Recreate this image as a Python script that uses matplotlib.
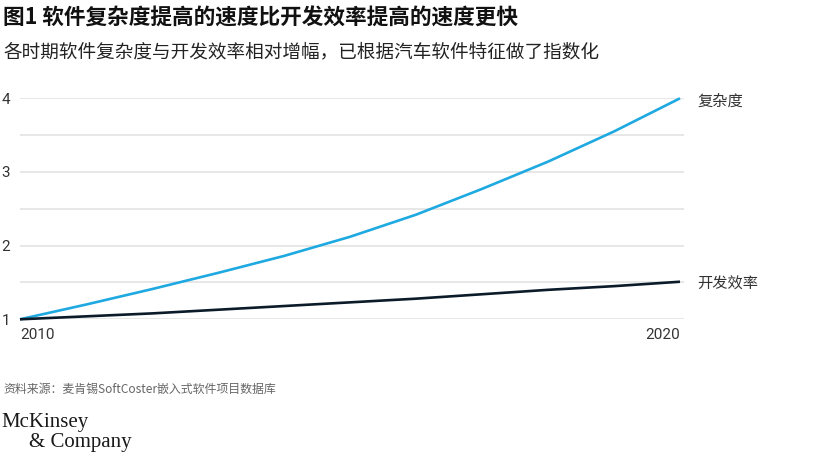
import matplotlib.pyplot as plt

# Data
years = [2010, 2011, 2012, 2013, 2014, 2015, 2016, 2017, 2018, 2019, 2020]
complexity = [1.0, 1.20, 1.41, 1.63, 1.86, 2.12, 2.42, 2.77, 3.14, 3.55, 4.0]
productivity = [1.0, 1.04, 1.08, 1.13, 1.18, 1.23, 1.28, 1.34, 1.40, 1.45, 1.51]
series_names = ["复杂度", "开发效率"]
y_ticks = [1, 2, 3, 4]
x_ticks = [2010, 2020]

title = "图1 软件复杂度提高的速度比开发效率提高的速度更快"
subtitle = "各时期软件复杂度与开发效率相对增幅，已根据汽车软件特征做了指数化"
source = "资料来源：麦肯锡SoftCoster嵌入式软件项目数据库"

cjk = ["Noto Sans CJK SC", "DejaVu Sans"]
blue = "#1fa9e1"
navy = "#0b1b2a"
grid_c = "#e3e3e3"

W, H = 831, 458
fig = plt.figure(figsize=(W / 100, H / 100), dpi=100)
fig.patch.set_facecolor("white")

# axes placed in pixel terms
left, right, bottom, top = 20, 684, 319.3, 98.3
ax = fig.add_axes([left / W, 1 - bottom / H, (right - left) / W, (bottom - top) / H])
ax.set_xlim(2010, 2010 + (right - left) / 66.0)
ax.set_ylim(1, 4)

for v in [1, 1.5, 2, 2.5, 3, 3.5, 4]:
    ax.axhline(v, color=grid_c, lw=1.2, zorder=0)

ax.plot(years, complexity, color=blue, lw=1.9, clip_on=False, zorder=3, solid_capstyle="butt")
ax.plot(years, productivity, color=navy, lw=1.9, clip_on=False, zorder=3, solid_capstyle="butt")

for s in ax.spines.values():
    s.set_visible(False)
ax.tick_params(length=0)
ax.set_yticks(y_ticks)
ax.set_yticklabels([str(t) for t in y_ticks], fontsize=11, color="#333333", family="Roboto")
ax.tick_params(axis="y", pad=7)
ax.set_xticks(x_ticks)
ax.set_xticklabels([str(t) for t in x_ticks], fontsize=11, color="#333333", family="Roboto")
ax.tick_params(axis="x", pad=6)
xl = ax.get_xticklabels()
xl[0].set_ha("left")
xl[1].set_ha("right")

# series labels at line ends
ax.annotate(series_names[0], xy=(years[-1], complexity[-1]), xytext=(697, H - 101),
            textcoords="figure pixels", fontsize=11, family=cjk, color="#333333", va="center")
ax.annotate(series_names[1], xy=(years[-1], productivity[-1]), xytext=(697, H - 284),
            textcoords="figure pixels", fontsize=11, family=cjk, color="#333333", va="center")

fig.text(3 / W, 1 - 18 / H, title, fontsize=15.6, fontweight="bold", family=cjk, color="#111111", va="center")
fig.text(3 / W, 1 - 52 / H, subtitle, fontsize=13.4, family=cjk, color="#222222", va="center")
fig.text(3 / W, 1 - 389 / H, source, fontsize=8.6, family=cjk, color="#666666", va="center")
fig.text(1 / W, 1 - 422 / H, "McKinsey", fontsize=15, family="Liberation Serif", color="#1a1a1a", va="center")
fig.text(29 / W, 1 - 443 / H, "& Company", fontsize=15, family="Liberation Serif", color="#1a1a1a", va="center")

fig.savefig("out.png", dpi=100, facecolor="white")
